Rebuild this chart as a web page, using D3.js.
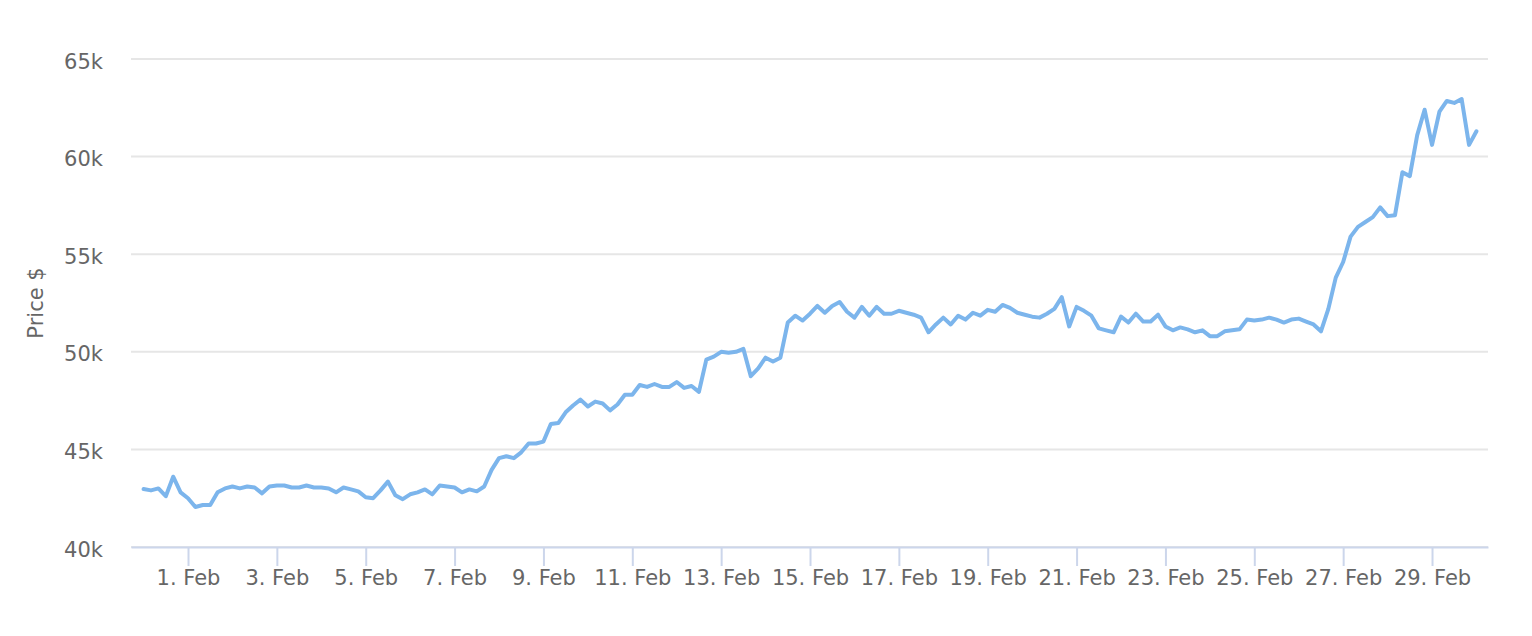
<!DOCTYPE html>
<html>
<head>
<meta charset="utf-8">
<script src="https://cdn.jsdelivr.net/npm/d3@7"></script>
<style>
  body { margin: 0; background: #fff; }
  text { font-family: "DejaVu Sans", sans-serif; fill: #666666; }
</style>
</head>
<body>
<div id="chart"></div>
<script>
// BTC price, Jan 31 00:00 UTC to Mar 1 00:00 UTC, one reading every 4 hours
var startTime = Date.UTC(2024, 0, 31);
var stepHours = 4;
var prices = [
  42970, 42900, 43000, 42600, 43600, 42800, 42500, 42050, 42150, 42150,
  42800, 43000, 43100, 43000, 43100, 43050, 42750, 43100, 43150, 43150,
  43050, 43050, 43150, 43050, 43050, 43000, 42800, 43050, 42950, 42850,
  42550, 42500, 42900, 43350, 42650, 42450, 42700, 42800, 42950, 42700,
  43150, 43100, 43050, 42800, 42950, 42850, 43100, 43950, 44550, 44650,
  44550, 44850, 45300, 45300, 45400, 46300, 46350, 46900, 47250, 47550,
  47200, 47450, 47350, 47000, 47300, 47800, 47800, 48300, 48200, 48350,
  48200, 48200, 48450, 48150, 48250, 47950, 49600, 49750, 50000, 49950,
  50000, 50150, 48750, 49150, 49700, 49500, 49700, 51500, 51850, 51600,
  51950, 52350, 52000, 52350, 52550, 52050, 51750, 52300, 51850, 52300,
  51950, 51950, 52100, 52000, 51900, 51750, 51000, 51400, 51750, 51400,
  51850, 51650, 52000, 51850, 52150, 52050, 52400, 52250, 52000, 51900,
  51800, 51750, 51950, 52200, 52800, 51300, 52300, 52100, 51850, 51200,
  51100, 51000, 51800, 51500, 51950, 51550, 51550, 51900, 51300, 51100,
  51250, 51150, 51000, 51100, 50800, 50800, 51050, 51100, 51150, 51650,
  51600, 51650, 51750, 51650, 51500, 51650, 51700, 51550, 51400, 51050,
  52200, 53800, 54600, 55900, 56400, 56650, 56900, 57400, 56950, 57000,
  59200, 59000, 61100, 62400, 60600, 62300, 62850, 62750, 62950, 60600,
  61300
];
var tickDays = [1, 3, 5, 7, 9, 11, 13, 15, 17, 19, 21, 23, 25, 27, 29];
var yTicks = [40000, 45000, 50000, 55000, 60000, 65000];
var yTitle = "Price $";

var svgWidth = 1532;
var svgHeight = 636;

var plot = { left: 131, right: 1488, top: 59, bottom: 547 };

var dayMs = 86400000;
var data = prices.map(function(p, i) {
  return { t: new Date(startTime + i * stepHours * 3600000), price: p };
});

var svg = d3.select("#chart")
  .append("svg")
  .attr("width", svgWidth)
  .attr("height", svgHeight);

// x domain padded a little on both sides of the data, like the original
var xScale = d3.scaleUtc()
  .domain([new Date(startTime - 0.283 * dayMs), new Date(Date.UTC(2024, 2, 1) + 0.26 * dayMs)])
  .range([plot.left, plot.right]);

var yScale = d3.scaleLinear()
  .domain([40000, 65000])
  .range([plot.bottom, plot.top]);

// gridlines
svg.append("g")
  .selectAll("line")
  .data(yTicks)
  .enter()
  .append("line")
  .attr("x1", plot.left)
  .attr("x2", plot.right)
  .attr("y1", d => yScale(d))
  .attr("y2", d => yScale(d))
  .attr("stroke", "#e6e6e6")
  .attr("stroke-width", 2);

// y labels
var leftAxis = d3.axisLeft(yScale)
  .tickValues(yTicks)
  .tickSize(0)
  .tickPadding(28)
  .tickFormat(d => (d / 1000) + "k");

var yAxisG = svg.append("g")
  .attr("transform", `translate(${plot.left}, 0)`)
  .call(leftAxis);
yAxisG.select(".domain").remove();
yAxisG.selectAll("text")
  .attr("font-size", 21)
  .attr("font-family", "DejaVu Sans")
  .attr("fill", "#666666")
  .attr("dy", "9px");

// x axis
var tickDates = tickDays.map(d => new Date(Date.UTC(2024, 1, d)));
var bottomAxis = d3.axisBottom(xScale)
  .tickValues(tickDates)
  .tickSize(19)
  .tickPadding(6)
  .tickSizeOuter(0)
  .tickFormat(d3.utcFormat("%-d. %b"));

var xAxisG = svg.append("g")
  .attr("transform", `translate(0, ${plot.bottom})`)
  .call(bottomAxis);
xAxisG.select(".domain")
  .attr("stroke", "#ccd6eb")
  .attr("stroke-width", 2);
xAxisG.selectAll(".tick line")
  .attr("stroke", "#ccd6eb")
  .attr("stroke-width", 2);
xAxisG.selectAll("text")
  .attr("font-size", 21)
  .attr("font-family", "DejaVu Sans")
  .attr("fill", "#666666")
  .attr("y", 0)
  .attr("dy", "38px");

// price line
var line = d3.line()
  .x(d => xScale(d.t))
  .y(d => yScale(d.price));

svg.append("path")
  .datum(data)
  .attr("fill", "none")
  .attr("stroke", "#7cb5ec")
  .attr("stroke-width", 4)
  .attr("stroke-linejoin", "round")
  .attr("stroke-linecap", "round")
  .attr("d", line);

// axis title
svg.append("text")
  .attr("transform", `translate(43, ${(plot.top + plot.bottom) / 2}) rotate(-90)`)
  .attr("text-anchor", "middle")
  .attr("font-size", 21)
  .text(yTitle);
</script>
</body>
</html>
